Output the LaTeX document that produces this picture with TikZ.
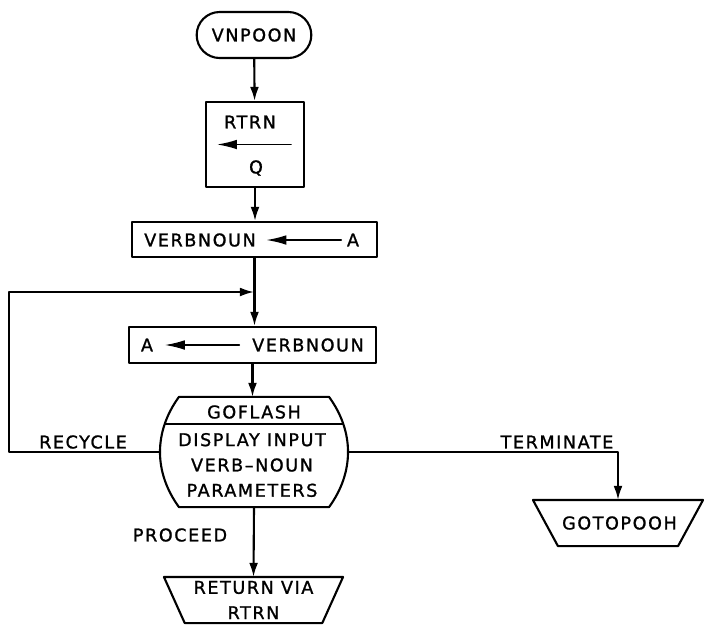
\documentclass[tikz,border=0pt]{standalone}
\usepackage{fontspec}
\setmainfont{DejaVu Sans}[LetterSpace=9,FakeBold=1.2]
\usetikzlibrary{arrows.meta,shapes.misc}

\begin{document}
\begin{tikzpicture}[x=0.025cm,y=-0.025cm,line join=round,line cap=round,line width=1.5pt,
  >={Latex[length=3.5mm,width=2.2mm]}]
\tikzset{every node/.style={font=\fontsize{12.5}{18}\selectfont},
  box/.style={draw,rectangle,inner sep=0pt},
  exit/.style={rectangle,minimum height=1.1cm,inner sep=0pt,align=center},
  set/.style={-{Latex[length=5mm,width=2.4mm]},line width=1.1pt}}
\useasboundingbox (0,0) rectangle (704,633);
\node[draw,rounded rectangle,minimum width=3.1cm,minimum height=1.15cm] (vnpoon) at (254,35) {VNPOON};
% RTRN <- Q
\node[box,minimum width=2.45cm,minimum height=2.125cm] (rtrn) at (255,144.5) {};
\node (rtrntxt) at (250,122) {RTRN};
\node (q) at (256,168) {Q};
\draw[set] ([xshift=-0.35cm]rtrn.east) -- ([xshift=0.3cm]rtrn.west);
% VERBNOUN <- A
\node[box,minimum width=6.125cm,minimum height=0.875cm] (setvn) at (254.5,239.5) {};
\node (vn1) at (200,240) {VERBNOUN};
\node (a1) at (353,240) {A};
\draw[set,shorten >=0.12cm] (a1) -- (vn1);
% A <- VERBNOUN
\node[box,minimum width=6.175cm,minimum height=0.9cm] (seta) at (252.5,345) {};
\node (a2) at (147,345) {A};
\node (vn2) at (308,345) {VERBNOUN};
\draw[set,shorten >=0.15cm,shorten <=0.18cm] (vn2) -- (a2);
% GOFLASH
\node[minimum width=3.7cm,minimum height=2.7cm,inner sep=0pt] (flash) at (254,452) {};
\draw (flash.north west) -- (flash.north east) to[bend left=36] coordinate (flashR) (flash.south east)
  -- (flash.south west) to[bend left=36] coordinate (flashL) (flash.north west) -- cycle;
\begin{scope}
\clip (flash.north west) -- (flash.north east) to[bend left=36] (flash.south east)
  -- (flash.south west) to[bend left=36] (flash.north west) -- cycle;
\draw (150,424) -- (360,424);
\end{scope}
\node (goflash) at (254,412) {GOFLASH};
\node[align=center] (display) at (252,465) {DISPLAY INPUT\\VERB\textendash NOUN\\PARAMETERS};
% exits
\node[exit,minimum width=4.2cm] (pooh) at (618,523) {\,GOTOPOOH};
\draw (pooh.north west) -- (pooh.north east) -- ([xshift=-0.625cm]pooh.south east)
  -- ([xshift=0.625cm]pooh.south west) -- cycle;
\node[exit,minimum width=4.425cm] (ret) at (253.5,600) {RETURN VIA\\RTRN};
\draw (ret.north west) -- (ret.north east) -- ([xshift=-0.52cm]ret.south east)
  -- ([xshift=0.52cm]ret.south west) -- cycle;
\coordinate (join) at (254,292);
\coordinate (corner) at (9,292);
\draw[->] (vnpoon) -- (rtrn);
\draw[->] (rtrn.south) -- (rtrn.south |- setvn.north);
\draw[->] (setvn.south) -- (setvn.south |- seta.north);
\draw[->] (seta.south) -- (seta.south |- flash.north);
\draw[->] (flashL) -| (corner) -- (join);
\draw[->] (flashR) -| (pooh.north);
\draw[->] (flash.south) -- (ret.north);
\node (recycle) at (83,442) {RECYCLE};
\node (terminate) at (557,442) {TERMINATE};
\node (proceed) at (180,535) {PROCEED};
\end{tikzpicture}
\end{document}
